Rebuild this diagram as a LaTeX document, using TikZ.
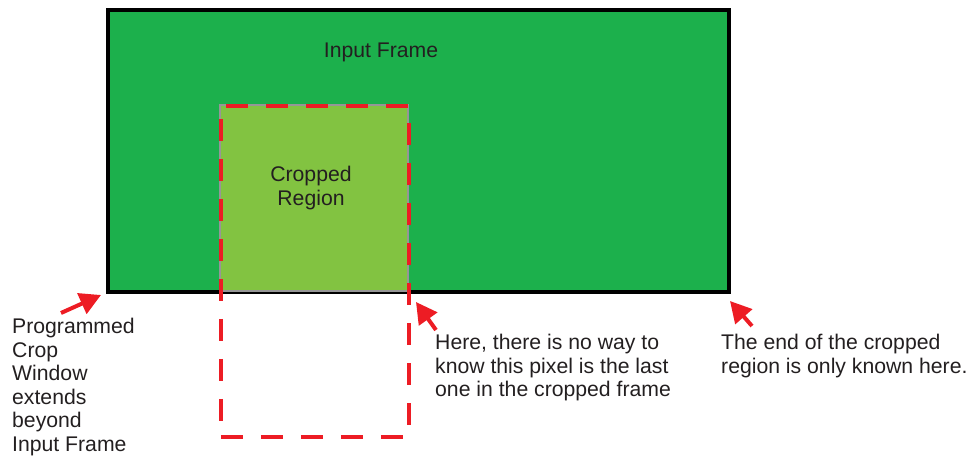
\documentclass[tikz,border=0pt]{standalone}
\usepackage{fontspec}
\setmainfont{Liberation Sans}
\usepackage{xcolor}
\usepackage{tikz}
\usetikzlibrary{arrows.meta,positioning}
\definecolor{framegreen}{RGB}{28,176,76}
\definecolor{cropgreen}{RGB}{130,195,65}
\definecolor{winred}{RGB}{237,28,36}
\definecolor{edgegray}{RGB}{150,150,150}
\definecolor{txt}{RGB}{35,31,32}

\begin{document}
\begin{tikzpicture}[x=1pt, y=-1pt,
  lbl/.style={font=\fontsize{21.2}{23.6}\selectfont, text=txt, inner sep=0pt},
  pointer/.style={winred, line width=4pt, -{Triangle[length=21pt, width=22pt]}}]
  \useasboundingbox (0,0) rectangle (969,458);
  % input frame
  \node[draw=black, line width=3.5pt, fill=framegreen, anchor=north west,
        minimum width=621pt, minimum height=282pt] (input) at (106,8) {};
  \node[lbl, anchor=base] (inputlbl) at (381,57) {Input Frame};
  % cropped region
  \node[draw=edgegray, line width=2pt, fill=cropgreen, anchor=north west,
        minimum width=188pt, minimum height=186pt] (crop) at (219,104) {};
  \node[lbl, align=center, anchor=north] (croplbl) at (311,166) {Cropped\\Region};
  % programmed crop window
  \node[draw=winred, line width=3.5pt, dash pattern=on 22pt off 18pt, anchor=north west,
        minimum width=188pt, minimum height=331pt] (window) at (219,104) {};
  % notes
  \node[lbl, align=left, anchor=north west] (note1) at (12,318)
    {Programmed\\Crop\\Window\\extends\\beyond\\Input Frame};
  \node[lbl, align=left, anchor=north west] (note2) at (435,334)
    {Here, there is no way to\\know this pixel is the last\\one in the cropped frame};
  \node[lbl, align=left, anchor=north west] (note3) at (721,334)
    {The end of the cropped\\region is only known here.};
  % pointers
  \coordinate (tail1) at (61,313);  \coordinate (tip1) at (101,295);
  \coordinate (tail2) at (436,330); \coordinate (tip2) at (416,302);
  \coordinate (tail3) at (752,326); \coordinate (tip3) at (730,301);
  \draw[pointer] (tail1) -- (tip1);
  \draw[pointer] (tail2) -- (tip2);
  \draw[pointer] (tail3) -- (tip3);
\end{tikzpicture}
\end{document}
